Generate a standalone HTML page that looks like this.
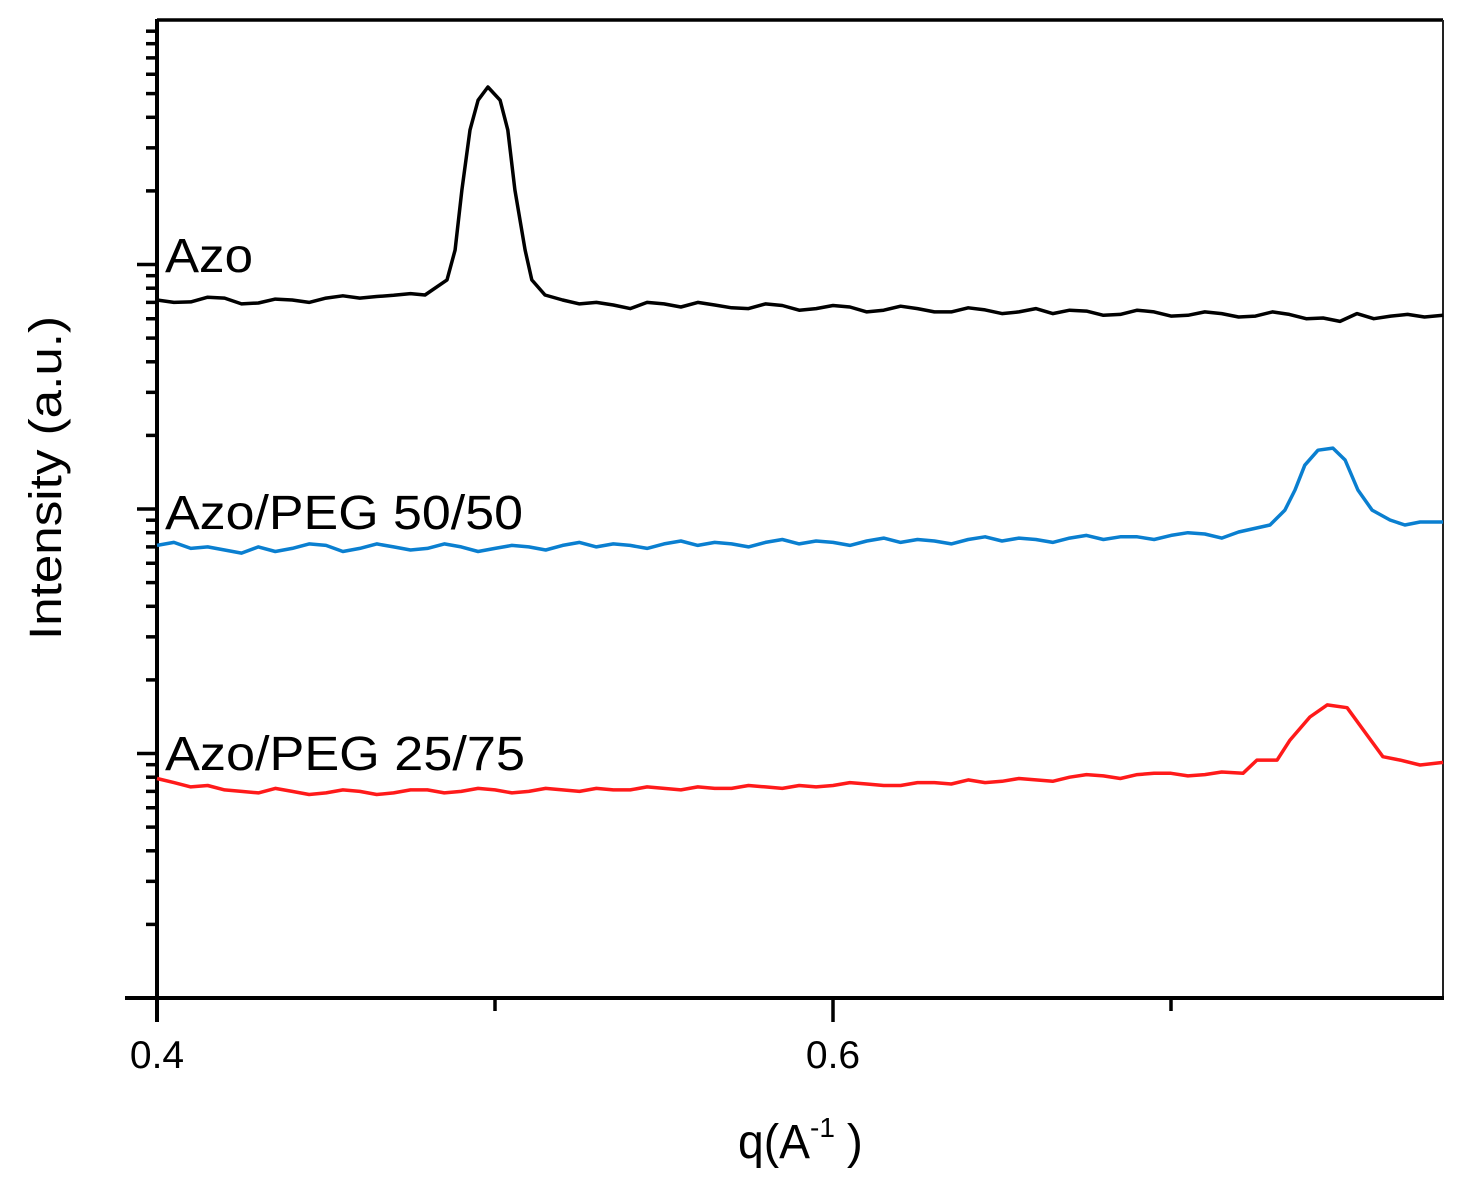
<!DOCTYPE html>
<html><head><meta charset="utf-8"><style>
html,body{margin:0;padding:0;background:#fff;}
svg{display:block;font-family:"Liberation Sans",Arial,sans-serif;}
</style></head><body>
<svg id="chart" width="1470" height="1185" viewBox="0 0 1470 1185" xmlns="http://www.w3.org/2000/svg">
<rect x="0" y="0" width="1470" height="1185" fill="#fff"/>
<g id="axes"></g>
<g id="series"></g>
<text x="165" y="272" font-size="48" fill="#000" textLength="88" lengthAdjust="spacingAndGlyphs">Azo</text>
<text x="165" y="529" font-size="48" fill="#000" textLength="358" lengthAdjust="spacingAndGlyphs">Azo/PEG 50/50</text>
<text x="165" y="770" font-size="48" fill="#000" textLength="360" lengthAdjust="spacingAndGlyphs">Azo/PEG 25/75</text>
<text transform="translate(61,478) rotate(-90)" text-anchor="middle" font-size="45" fill="#000" textLength="324" lengthAdjust="spacingAndGlyphs">Intensity (a.u.)</text>
<text x="738" y="1158" font-size="48" fill="#000"><tspan textLength="72" lengthAdjust="spacingAndGlyphs">q(A</tspan><tspan font-size="28" dy="-21">-1</tspan><tspan dy="21" dx="12">)</tspan></text>
</svg>
<script>
const xTickValues = [0.4, 0.6];
const xTickLabels = ["0.4", "0.6"];
const xMinorTicks = [0.5, 0.7];
const azoQ = [0.400,0.405,0.410,0.415,0.420,0.425,0.430,0.435,0.440,0.445,0.450,0.455,0.460,0.465,0.470,0.475,0.4793,0.4858,0.4882,0.4902,0.4926,0.4950,0.4979,0.5015,0.5038,0.5059,0.5089,0.5109,0.5148,0.520,0.525,0.530,0.535,0.540,0.545,0.550,0.555,0.560,0.565,0.570,0.575,0.580,0.585,0.590,0.595,0.600,0.605,0.610,0.615,0.620,0.625,0.630,0.635,0.640,0.645,0.650,0.655,0.660,0.665,0.670,0.675,0.680,0.685,0.690,0.695,0.700,0.705,0.710,0.715,0.720,0.725,0.730,0.735,0.740,0.745,0.750,0.755,0.760,0.765,0.770,0.775,0.7805];
const azoI = [716,700,703,735,729,690,696,722,716,700,729,745,729,740,748,760,750,865,1146,2018,3548,4700,5320,4700,3548,2018,1146,865,750,716,690,700,683,660,700,690,670,700,683,665,660,690,680,650,660,680,670,640,650,675,660,640,640,665,652,630,640,660,630,650,645,620,625,650,640,615,620,640,630,610,615,640,625,600,604,585,630,600,615,625,610,620];
const blueQ = [0.400,0.405,0.410,0.415,0.420,0.425,0.430,0.435,0.440,0.445,0.450,0.455,0.460,0.465,0.470,0.475,0.480,0.485,0.490,0.495,0.500,0.505,0.510,0.515,0.520,0.525,0.530,0.535,0.540,0.545,0.550,0.555,0.560,0.565,0.570,0.575,0.580,0.585,0.590,0.595,0.600,0.605,0.610,0.615,0.620,0.625,0.630,0.635,0.640,0.645,0.650,0.655,0.660,0.665,0.670,0.675,0.680,0.685,0.690,0.695,0.700,0.705,0.710,0.715,0.720,0.7293,0.7337,0.7367,0.7396,0.7435,0.7479,0.7515,0.7553,0.7595,0.7648,0.7692,0.7737,0.7805];
const blueI = [71,73,69,70,68,66,70,67,69,72,71,67,69,72,70,68,69,72,70,67,69,71,70,68,71,73,70,72,71,69,72,74,71,73,72,70,73,75,72,74,73,71,74,76,73,75,74,72,75,77,74,76,75,73,76,78,75,77,77,75,78,80,79,76,80.5,86,99,119.6,151,174,177.5,158.6,119.6,99,90.2,86,88.5,88.5];
const redQ = [0.400,0.405,0.410,0.415,0.420,0.425,0.430,0.435,0.440,0.445,0.450,0.455,0.460,0.465,0.470,0.475,0.480,0.485,0.490,0.495,0.500,0.505,0.510,0.515,0.520,0.525,0.530,0.535,0.540,0.545,0.550,0.555,0.560,0.565,0.570,0.575,0.580,0.585,0.590,0.595,0.600,0.605,0.610,0.615,0.620,0.625,0.630,0.635,0.640,0.645,0.650,0.655,0.660,0.665,0.670,0.675,0.680,0.685,0.690,0.695,0.700,0.705,0.710,0.715,0.7213,0.7254,0.7314,0.7352,0.7411,0.7462,0.7521,0.7580,0.7627,0.7678,0.7737,0.7805];
const redI = [7.9,7.6,7.3,7.4,7.1,7.0,6.9,7.2,7.0,6.8,6.9,7.1,7.0,6.8,6.9,7.1,7.1,6.9,7.0,7.2,7.1,6.9,7.0,7.2,7.1,7.0,7.2,7.1,7.1,7.3,7.2,7.1,7.3,7.2,7.2,7.4,7.3,7.2,7.4,7.3,7.4,7.6,7.5,7.4,7.4,7.6,7.6,7.5,7.8,7.6,7.7,7.9,7.8,7.7,8.0,8.2,8.1,7.9,8.2,8.3,8.3,8.1,8.2,8.4,8.3,9.4,9.4,11.35,14.1,15.8,15.4,11.9,9.7,9.4,8.97,9.2];

const NS = "http://www.w3.org/2000/svg";
const X0 = 157, X1 = 1443, Q0 = 0.4, Q1 = 0.4 + (1443 - 157) / 3380;
const YB = 998, YT = 20, L0 = 0, L1 = 4;
function xScale(q) { return X0 + (q - Q0) / (Q1 - Q0) * (X1 - X0); }
function yScale(v) { return YB - (Math.log10(v) - L0) / (L1 - L0) * (YB - YT); }
function mk(tag, attrs, parent) {
  const el = document.createElementNS(NS, tag);
  for (const k in attrs) el.setAttribute(k, attrs[k]);
  parent.appendChild(el);
  return el;
}
const axes = document.getElementById('axes');
let e;
e = mk('line', {x1: X0, y1: YT, x2: X1, y2: YT, stroke: '#000', 'stroke-width': 3.5}, axes);


e = mk('line', {x1: X1, y1: YT, x2: X1, y2: YB, stroke: '#222', 'stroke-width': 2}, axes);


e = mk('line', {x1: 125, y1: YB, x2: X1 + 1, y2: YB, stroke: '#000', 'stroke-width': 4}, axes);


e = mk('line', {x1: X0, y1: YT - 1, x2: X0, y2: 1022, stroke: '#000', 'stroke-width': 4}, axes);


xTickValues.forEach((v, i) => {
  const x = xScale(v);
  const t = mk('line', {x1: x, y1: YB, x2: x, y2: 1022, stroke: '#000', 'stroke-width': 3.5}, axes);
  
  
  const lb = mk('text', {x: x, y: 1068, 'text-anchor': 'middle', 'font-size': 39, fill: '#000'}, axes);
  lb.textContent = xTickLabels[i];
  
  
});
xMinorTicks.forEach(v => {
  const x = xScale(v);
  const t = mk('line', {x1: x, y1: YB, x2: x, y2: 1011, stroke: '#000', 'stroke-width': 3.5}, axes);
  
  
});
for (let d = L0; d < L1; d++) {
  for (let m = 1; m <= 9; m++) {
    const v = m * Math.pow(10, d);
    const y = yScale(v);
    if (m === 1 && d === 0) continue;
    const major = (m === 1);
    const t = mk('line', {x1: major ? 137 : 146, y1: y, x2: X0, y2: y, stroke: '#000', 'stroke-width': 3.5}, axes);
    
    
  }
}
const sg = document.getElementById('series');
function drawSeries(qs, vals, color, name) {
  const d = qs.map((q, i) => (i ? 'L' : 'M') + xScale(q).toFixed(1) + ',' + yScale(vals[i]).toFixed(1)).join(' ');
  const p = mk('path', {d: d, fill: 'none', stroke: color, 'stroke-width': 3.5, 'stroke-linejoin': 'round'}, sg);
  
  
}
drawSeries(azoQ, azoI, '#000000', 'series-azo');
drawSeries(blueQ, blueI, '#0a7fd0', 'series-azo-peg-50-50');
drawSeries(redQ, redI, '#ff1a1a', 'series-azo-peg-25-75');
</script>
</body></html>
